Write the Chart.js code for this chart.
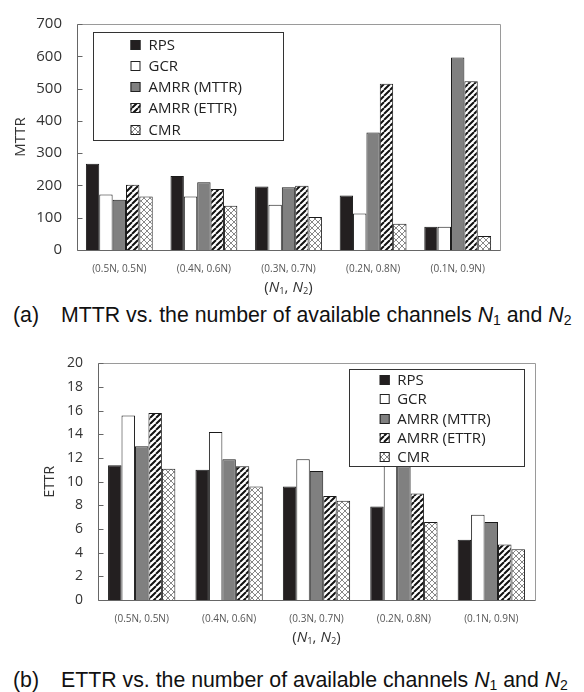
<!DOCTYPE html>
<html>
<head>
<meta charset="utf-8">
<script src="https://cdn.jsdelivr.net/npm/chart.js@4.4.0/dist/chart.umd.min.js"></script>
<style>
	body { margin: 0; background: #fff; width: 584px; height: 692px; position: relative; overflow: hidden; }
	.box { position: absolute; left: 0; width: 584px; }
	#boxA { top: 0; height: 300px; }
	#boxB { top: 340px; height: 320px; }
	.caption { position: absolute; left: 13px; font: 21.3px "Liberation Sans", Arial, sans-serif; color: #111; white-space: nowrap; line-height: 24px; }
	.caption .tag { display: inline-block; width: 48px; }
	.caption sub { font-size: 14px; vertical-align: -3px; line-height: 0; }
	#capA { top: 303px; }
	#capB { top: 668px; }
</style>
</head>
<body>
<div class="box" id="boxA"><canvas id="chartA"></canvas></div>
<div class="caption" id="capA"><span class="tag">(a)</span>MTTR vs. the number of available channels <i>N</i><sub>1</sub> and <i>N</i><sub>2</sub></div>
<div class="box" id="boxB"><canvas id="chartB"></canvas></div>
<div class="caption" id="capB"><span class="tag">(b)</span>ETTR vs. the number of available channels <i>N</i><sub>1</sub> and <i>N</i><sub>2</sub></div>
<script>
const categories = ['(0.5N, 0.5N)', '(0.4N, 0.6N)', '(0.3N, 0.7N)', '(0.2N, 0.8N)', '(0.1N, 0.9N)'];
const seriesNames = ['RPS', 'GCR', 'AMRR (MTTR)', 'AMRR (ETTR)', 'CMR'];

// (a) MTTR
const mttrRPS = [267, 229, 197, 169, 72];
const mttrGCR = [172, 166, 140, 113, 72];
const mttrAmrrMttr = [156, 210, 194, 364, 596];
const mttrAmrrEttr = [202, 189, 199, 515, 523];
const mttrCMR = [166, 137, 102, 81, 43];
const mttrTicks = [0, 700, 100]; // min, max, step

// (b) ETTR
const ettrRPS = [11.4, 11.0, 9.6, 7.9, 5.1];
const ettrGCR = [15.6, 14.2, 11.9, 12.8, 7.2];
const ettrAmrrMttr = [13.0, 11.9, 10.9, 11.3, 6.6];
const ettrAmrrEttr = [15.8, 11.3, 8.8, 9.0, 4.7];
const ettrCMR = [11.1, 9.6, 8.4, 6.6, 4.3];
const ettrTicks = [0, 20, 2];

const FONT = '"Open Sans", "DejaVu Sans", sans-serif';

function stripePattern(ctx) {
	const c = document.createElement('canvas');
	c.width = c.height = 6;
	const g = c.getContext('2d');
	g.fillStyle = '#fff';
	g.fillRect(0, 0, 6, 6);
	g.strokeStyle = '#111';
	g.lineWidth = 2;
	g.beginPath();
	for (const k of [-6, 0, 6]) {
		g.moveTo(k, 6);
		g.lineTo(k + 6, 0);
	}
	g.stroke();
	return ctx.createPattern(c, 'repeat');
}

function crossPattern(ctx) {
	const c = document.createElement('canvas');
	c.width = c.height = 6;
	const g = c.getContext('2d');
	g.fillStyle = '#fff';
	g.fillRect(0, 0, 6, 6);
	g.strokeStyle = '#7a7a7a';
	g.lineWidth = 0.9;
	g.beginPath();
	for (const k of [-6, 0, 6]) {
		g.moveTo(k, 6);
		g.lineTo(k + 6, 0);
		g.moveTo(k, 0);
		g.lineTo(k + 6, 6);
	}
	g.stroke();
	return ctx.createPattern(c, 'repeat');
}

// frame round the plot, inward ticks on the y axis, rich x title
const framePlugin = {
	id: 'frame',
	afterDatasetsDraw(chart, args, opts) {
		const { ctx, chartArea: a, scales: { y } } = chart;
		const l = Math.round(a.left) + 0.5, r = Math.round(a.right) + 0.5;
		const t = Math.round(a.top) + 0.5, b = Math.round(a.bottom) + 0.5;
		ctx.save();
		ctx.lineWidth = 1;
		ctx.strokeStyle = '#9a9a9a';
		ctx.beginPath();
		ctx.moveTo(l, t); ctx.lineTo(r, t); ctx.lineTo(r, b);
		ctx.stroke();
		ctx.strokeStyle = '#666';
		ctx.beginPath();
		ctx.moveTo(l, t); ctx.lineTo(l, b); ctx.lineTo(r, b);
		ctx.stroke();
		y.ticks.forEach((tk, i) => {
			const py = Math.round(y.getPixelForTick(i)) + 0.5;
			ctx.beginPath();
			ctx.moveTo(l, py);
			ctx.lineTo(l + 5, py);
			ctx.stroke();
		});

		// x axis title: (N1, N2) with italic N and subscripts
		const parts = [
			['(', 'n'], ['N', 'i'], ['1', 's'], [', ', 'n'], ['N', 'i'], ['2', 's'], [')', 'n']
		];
		const fontOf = (k) => k === 'i' ? `italic ${opts.titleSize}px ${FONT}` :
			k === 's' ? `${opts.titleSize * 0.62}px ${FONT}` : `${opts.titleSize}px ${FONT}`;
		let w = 0;
		parts.forEach(([s, k]) => { ctx.font = fontOf(k); w += ctx.measureText(s).width; });
		let x = (a.left + a.right) / 2 - w / 2;
		const baseY = a.bottom + opts.titleDy + opts.titleSize * 0.35;
		ctx.fillStyle = '#333';
		ctx.textBaseline = 'alphabetic';
		parts.forEach(([s, k]) => {
			ctx.font = fontOf(k);
			ctx.fillText(s, x, k === 's' ? baseY + 2 : baseY);
			x += ctx.measureText(s).width;
		});
		ctx.restore();
	}
};

const boxLegend = {
	id: 'boxLegend',
	afterDatasetsDraw(chart, args, opts) {
		const { ctx, chartArea: a } = chart;
		const x = Math.round(a.left + opts.x), y = Math.round(a.top + opts.y);
		ctx.save();
		ctx.fillStyle = '#fff';
		ctx.fillRect(x, y, opts.w, opts.h);
		ctx.strokeStyle = '#333';
		ctx.lineWidth = 1;
		ctx.strokeRect(x + 0.5, y + 0.5, opts.w, opts.h);
		ctx.font = `${opts.size}px ${FONT}`;
		ctx.textBaseline = 'middle';
		chart.data.datasets.forEach((ds, i) => {
			const cy = Math.round(y + opts.first + i * opts.row);
			const mx = x + opts.markerX;
			ctx.fillStyle = ds.backgroundColor;
			ctx.fillRect(mx, cy - 5, 10, 10);
			ctx.strokeStyle = '#222';
			ctx.strokeRect(mx + 0.5, cy - 4.5, 9, 9);
			ctx.fillStyle = '#222';
			ctx.fillText(ds.label, mx + 10 + opts.gap, cy + 1);
		});
		ctx.restore();
	}
};

function buildChart(id, series, ticks, yTitle, look) {
	const canvas = document.getElementById(id);
	const ctx = canvas.getContext('2d');
	const fills = ['#231f20', '#ffffff', '#808080', stripePattern(ctx), crossPattern(ctx)];

	return new Chart(canvas, {
		type: 'bar',
		data: {
			labels: categories,
			datasets: series.map((values, i) => ({
				label: seriesNames[i],
				data: values,
				backgroundColor: fills[i],
				borderColor: '#1a1a1a',
				borderWidth: 1,
				categoryPercentage: look.catPct,
				barPercentage: 1.0,
			})),
		},
		options: {
			responsive: true,
			maintainAspectRatio: false,
			animation: false,
			layout: { padding: { left: 0, right: look.padRight, top: look.padTop, bottom: 0 } },
			plugins: {
				legend: { display: false },
				tooltip: { enabled: false },
				boxLegend: look.legend,
				frame: { titleSize: 15, titleDy: 37 },
			},
			scales: {
				x: {
					grid: { display: false },
					border: { display: false },
					ticks: { font: { family: FONT, size: 10 }, color: '#555', padding: 5, maxRotation: 0 },
					afterFit: (scale) => { scale.height = look.xHeight; },
				},
				y: {
					min: ticks[0],
					max: ticks[1],
					grid: { display: false, drawTicks: false },
					border: { display: false },
					ticks: { stepSize: ticks[2], font: { family: FONT, size: look.tickSize }, color: '#333', padding: look.tickPad },
					title: {
						display: true,
						text: yTitle,
						font: { family: FONT, size: look.yTitleSize },
						color: '#333',
						padding: { top: look.yTitlePad, bottom: 0 },
					},
					afterFit: (scale) => { scale.width = look.yWidth; },
				},
			},
		},
		plugins: [framePlugin, boxLegend],
	});
}

buildChart('chartA', [mttrRPS, mttrGCR, mttrAmrrMttr, mttrAmrrEttr, mttrCMR], mttrTicks, 'MTTR', {
	catPct: 0.79, padRight: 84, padTop: 10, xHeight: 50, yWidth: 77,
	tickSize: 15, tickPad: 15, yTitleSize: 15, yTitlePad: 12,
	legend: { x: 15.5, y: 7.5, w: 190, h: 108, first: 12.5, row: 21.25, markerX: 37.5, gap: 8, size: 15 },
});

buildChart('chartB', [ettrRPS, ettrGCR, ettrAmrrMttr, ettrAmrrEttr, ettrCMR], ettrTicks, 'ETTR', {
	catPct: 0.77, padRight: 49, padTop: 19, xHeight: 60, yWidth: 98,
	tickSize: 14, tickPad: 15, yTitleSize: 14, yTitlePad: 42,
	legend: { x: 250.5, y: 5.3, w: 175, h: 97, first: 10.7, row: 19.4, markerX: 30.7, gap: 7.5, size: 15 },
});
</script>
</body>
</html>
